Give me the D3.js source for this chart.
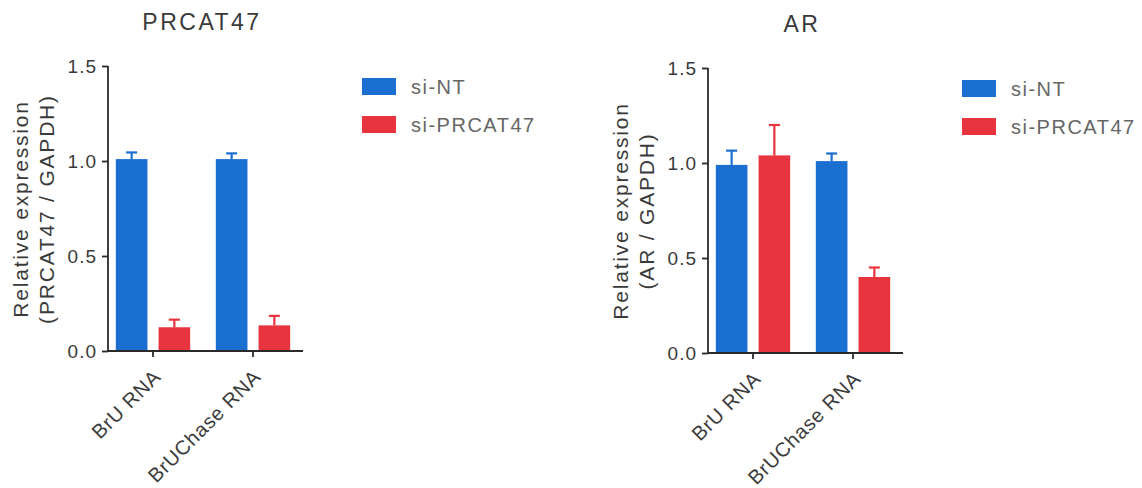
<!DOCTYPE html>
<html>
<head>
<meta charset="utf-8">
<script src="https://cdn.jsdelivr.net/npm/d3@7"></script>
<style>
  html, body { margin: 0; padding: 0; background: #fff; }
  svg { display: block; font-family: "Liberation Sans", Arial, sans-serif; }
</style>
</head>
<body>
<svg id="chart" width="1142" height="488"></svg>
<script>
// Categories and series
const categories = ["BrU RNA", "BrUChase RNA"];
const seriesNames = ["si-NT", "si-PRCAT47"];
const seriesColors = ["#1a6fd0", "#e8343f"];
const yTicks = [0.0, 0.5, 1.0, 1.5];

// PRCAT47 panel: means and upper error (mean + SEM)
const prcatNT = [1.01, 1.01];
const prcatNTErr = [1.045, 1.04];
const prcatKD = [0.125, 0.135];
const prcatKDErr = [0.165, 0.185];

// AR panel
const arNT = [0.99, 1.01];
const arNTErr = [1.065, 1.05];
const arKD = [1.04, 0.40];
const arKDErr = [1.20, 0.45];

const panels = [
  { title: "PRCAT47", ylab2: "(PRCAT47 / GAPDH)", ox: 0, oy: 0,
    values: [prcatNT, prcatKD], errs: [prcatNTErr, prcatKDErr] },
  { title: "AR", ylab2: "(AR / GAPDH)", ox: 600, oy: 2,
    values: [arNT, arKD], errs: [arNTErr, arKDErr] }
];

const svg = d3.select("#chart");
const textCol = "#3a3a3a";
const fontFam = "Liberation Sans, Arial, sans-serif";

panels.forEach(p => {
  const g = svg.append("g").attr("transform", `translate(${p.ox},${p.oy})`);
  const axisX = 108, y0 = 351, y1 = 66;

  const y = d3.scaleLinear().domain([0, 1.5]).range([y0, y1]);
  const x = d3.scaleBand().domain(categories).range([103, 303]).paddingInner(0).paddingOuter(0);
  const xs = d3.scaleBand().domain(seriesNames).range([0, x.bandwidth()]).paddingInner(0.26).paddingOuter(0.3);

  // Title
  g.append("text")
    .attr("x", 202).attr("y", 30)
    .attr("text-anchor", "middle")
    .attr("font-size", 23).attr("letter-spacing", 2.5)
    .attr("fill", textCol)
    .text(p.title);

  // Bars and error whiskers
  seriesNames.forEach((s, si) => {
    const col = seriesColors[si];
    categories.forEach((c, ci) => {
      const v = p.values[si][ci];
      const e = p.errs[si][ci];
      const bx = x(c) + xs(s);
      const bw = xs.bandwidth();
      g.append("rect")
        .attr("x", bx).attr("y", y(v))
        .attr("width", bw).attr("height", y(0) - y(v))
        .attr("fill", col);
      const cx = bx + bw / 2;
      g.append("line")
        .attr("x1", cx).attr("x2", cx)
        .attr("y1", y(v)).attr("y2", y(e))
        .attr("stroke", col).attr("stroke-width", 2.2);
      g.append("line")
        .attr("x1", cx - 5.5).attr("x2", cx + 5.5)
        .attr("y1", y(e)).attr("y2", y(e))
        .attr("stroke", col).attr("stroke-width", 2.2);
    });
  });

  // Y axis
  const yAxis = d3.axisLeft(y).tickValues(yTicks).tickFormat(d3.format(".1f")).tickSize(6).tickPadding(5);
  const ya = g.append("g").attr("transform", `translate(${axisX},0)`).call(yAxis);
  ya.select(".domain").attr("stroke", "#2a2a2a").attr("stroke-width", 1.8).attr("d", `M0,${y1}V${y0}`);
  ya.selectAll(".tick line").attr("stroke", "#2a2a2a").attr("stroke-width", 1.8);
  ya.selectAll(".tick text").attr("font-size", 19).attr("fill", textCol).attr("letter-spacing", 1)
    .attr("font-family", fontFam);

  // X axis
  const xAxis = d3.axisBottom(x).tickSize(6).tickFormat("");
  const xa = g.append("g").attr("transform", `translate(0,${y0})`).call(xAxis);
  xa.select(".domain").attr("stroke", "#2a2a2a").attr("stroke-width", 1.8).attr("d", `M${axisX},0H303`);
  xa.selectAll(".tick line").attr("stroke", "#2a2a2a").attr("stroke-width", 1.8);

  // Rotated category labels
  categories.forEach(c => {
    const tx = x(c) + x.bandwidth() / 2 + 9;
    const ty = y0 + 27;
    g.append("text")
      .attr("transform", `translate(${tx},${ty}) rotate(-45)`)
      .attr("text-anchor", "end")
      .attr("font-size", 20).attr("letter-spacing", 0.8)
      .attr("fill", textCol)
      .text(c);
  });

  // Y axis title, two lines
  const ymid = 209;
  g.append("text")
    .attr("transform", `translate(28,${ymid}) rotate(-90)`)
    .attr("text-anchor", "middle")
    .attr("font-size", 21).attr("letter-spacing", 1.8)
    .attr("fill", textCol)
    .text("Relative expression");
  g.append("text")
    .attr("transform", `translate(54,${ymid}) rotate(-90)`)
    .attr("text-anchor", "middle")
    .attr("font-size", 21).attr("letter-spacing", 1.8)
    .attr("fill", textCol)
    .text(p.ylab2);

  // Legend
  seriesNames.forEach((s, si) => {
    const ly = 78 + si * 38;
    g.append("rect")
      .attr("x", 362).attr("y", ly)
      .attr("width", 34).attr("height", 17)
      .attr("fill", seriesColors[si]);
    g.append("text")
      .attr("x", 411).attr("y", ly + 16)
      .attr("font-size", 20).attr("letter-spacing", 1.5).attr("fill", "#666")
      .text(s);
  });
});
</script>
</body>
</html>
